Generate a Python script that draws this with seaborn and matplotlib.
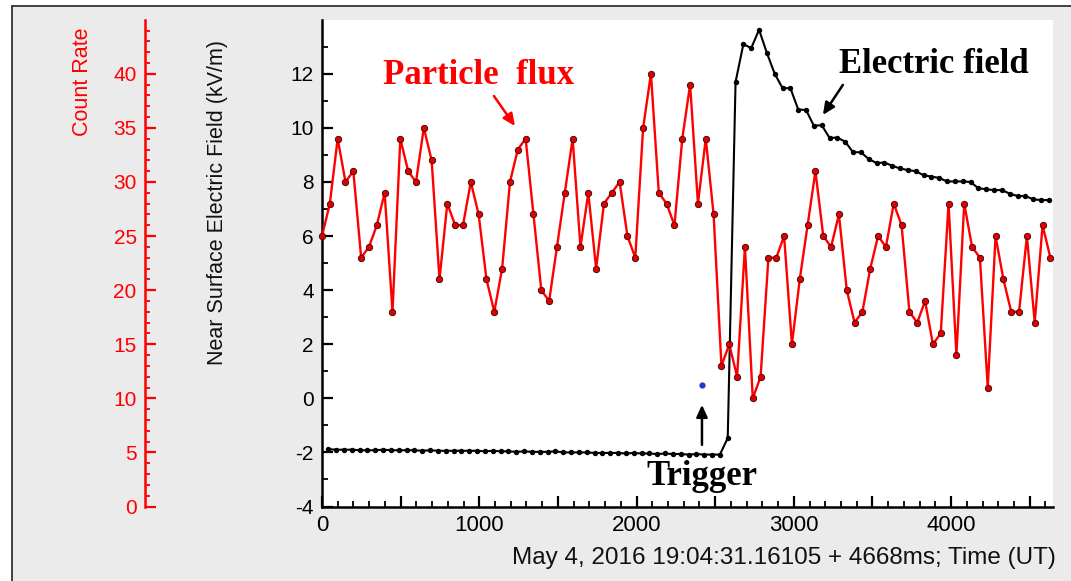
import numpy as np
import pandas as pd
import matplotlib
matplotlib.use("Agg")
import matplotlib.pyplot as plt
from matplotlib.ticker import MultipleLocator, FuncFormatter
from matplotlib.patches import Rectangle
from matplotlib.lines import Line2D
import seaborn as sns

# ---------------- data ----------------
count_t0 = 0.0          # ms
count_dt = 49.8         # ms between samples
count_rate = [25, 28, 34, 30, 31, 23, 24, 26, 29, 18, 34, 31, 30, 35, 32, 21,
              28, 26, 26, 30, 27, 21, 18, 22, 30, 33, 34, 27, 20, 19, 24, 29,
              34, 24, 29, 22, 28, 29, 30, 25, 23, 35, 40, 29, 28, 26, 34,
              39, 28, 34, 27, 13, 15, 12, 24, 10, 12, 23, 23, 25, 15, 21, 26,
              31, 25, 24, 27, 20, 17, 18, 22, 25, 24, 28, 26, 18, 17, 19, 15,
              16, 28, 14, 28, 24, 23, 11, 25, 21, 18, 18, 25, 17, 26, 23]

field_t0 = 40.0
field_dt = 49.8
field_kvm = [-1.88, -1.90, -1.90, -1.90, -1.92, -1.92, -1.92, -1.90, -1.92, -1.92,
             -1.92, -1.92, -1.94, -1.92, -1.94, -1.94, -1.94, -1.94, -1.94, -1.94,
             -1.96, -1.94, -1.96, -1.96, -1.98, -1.96, -1.98, -1.98, -1.98, -1.96,
             -2.00, -2.00, -2.00, -2.00, -2.02, -2.02, -2.02, -2.02, -2.04, -2.02,
             -2.04, -2.04, -2.06, -2.04, -2.06, -2.06, -2.08, -2.06, -2.08, -2.08,
             -2.08, -1.47, 11.70, 13.10, 12.95, 13.63, 12.77, 12.00, 11.47, 11.47,
             10.68, 10.66, 10.08, 10.10, 9.63, 9.64, 9.49, 9.10, 9.10, 8.85,
             8.70, 8.72, 8.60, 8.50, 8.44, 8.40, 8.25, 8.20, 8.15, 8.02,
             8.02, 8.02, 8.00, 7.77, 7.73, 7.70, 7.70, 7.57, 7.48, 7.48,
             7.36, 7.33, 7.33]

trigger_t = 2416
trigger_value = 0.5

field_ylim = (-4, 13.99)
x_max = 4648
xlabel_text = "May 4, 2016 19:04:31.16105 + 4668ms; Time (UT)"
ylabel_text = "Near Surface Electric Field (kV/m)"
count_label = "Count Rate"

count_t = count_t0 + np.arange(len(count_rate)) * count_dt
field_t = field_t0 + np.arange(len(field_kvm)) * field_dt
df_count = pd.DataFrame({"t": count_t, "count": count_rate})
df_field = pd.DataFrame({"t": field_t, "E": field_kvm})

# ---------------- style ----------------
sns.set_theme(style="white")
plt.rcParams["font.family"] = ["Liberation Sans", "DejaVu Sans"]
plt.rcParams["axes.unicode_minus"] = False

W, H = 1071, 581
fig = plt.figure(figsize=(W / 100, H / 100), dpi=100)
fig.patch.set_facecolor("white")
fig.patches.append(Rectangle((12 / W, 0), 1, (H - 6) / H, transform=fig.transFigure,
                             facecolor="#ebebeb", edgecolor="none", zorder=-10))
fig.add_artist(Line2D([12 / W, 12 / W], [0, (H - 6) / H], transform=fig.transFigure,
                      color="#333333", lw=1.3))
fig.add_artist(Line2D([12 / W, 1], [(H - 6) / H, (H - 6) / H], transform=fig.transFigure,
                      color="#333333", lw=1.3))

ax = fig.add_axes([322 / W, 74.5 / H, 731 / W, 486.5 / H])
ax.set_facecolor("white")

sns.lineplot(data=df_field, x="t", y="E", ax=ax, color="black", lw=1.5,
             marker="o", markersize=3.9, markeredgewidth=0, estimator=None, zorder=3)
ax.plot([trigger_t], [trigger_value], "o", color="#1a3ad8", markersize=3.5, zorder=4)

ax.set_xlim(0, x_max)
ax.set_ylim(*field_ylim)
for s in ["top", "right"]:
    ax.spines[s].set_visible(False)
for s in ["left", "bottom"]:
    ax.spines[s].set_color("black")
    ax.spines[s].set_linewidth(1.8)

ax.xaxis.set_major_locator(MultipleLocator(500))
ax.xaxis.set_minor_locator(MultipleLocator(100))
ax.xaxis.set_major_formatter(FuncFormatter(lambda v, p: f"{int(v)}" if abs(v % 1000) < 1e-6 else ""))
ax.yaxis.set_major_locator(MultipleLocator(2))
ax.yaxis.set_minor_locator(MultipleLocator(1))
ax.tick_params(which="both", direction="in", bottom=True, left=True, top=False, right=False,
               colors="black", pad=6)
ax.tick_params(axis="x", labelsize=16)
ax.tick_params(axis="y", labelsize=15)
ax.tick_params(which="major", length=8, width=1.6)
ax.tick_params(which="minor", length=4, width=1.3)

ax.set_xlabel(xlabel_text, fontsize=17.5, color="#111111")
ax.xaxis.set_label_coords(0.632, -0.083)
ax.set_ylabel(ylabel_text, fontsize=15.5, color="#111111")
ax.yaxis.set_label_coords(-0.128, 0.625)

# ---------------- count-rate axis ----------------
ax2 = ax.twinx()
sns.lineplot(data=df_count, x="t", y="count", ax=ax2, color="red", lw=1.7,
             marker="o", markersize=4.6, markerfacecolor="#e00000",
             markeredgecolor="#3a0000", markeredgewidth=0.6, estimator=None,
             zorder=3, clip_on=False)
ax2.set_xlim(0, x_max)
ax2.set_ylim((field_ylim[0] + 4) * 2.5, (field_ylim[1] + 4) * 2.5)
for s in ["top", "right", "bottom"]:
    ax2.spines[s].set_visible(False)
ax2.spines["left"].set_visible(True)
ax2.spines["left"].set_position(("axes", (145 - 322) / 731))
ax2.spines["left"].set_color("red")
ax2.spines["left"].set_linewidth(1.8)
ax2.yaxis.set_ticks_position("left")
ax2.yaxis.set_label_position("left")
ax2.yaxis.set_major_locator(MultipleLocator(5))
ax2.yaxis.set_minor_locator(MultipleLocator(1))
ax2.tick_params(axis="y", which="both", direction="in", left=True, right=False,
                colors="red", labelsize=15, pad=6)
ax2.tick_params(axis="y", which="major", length=8, width=1.6)
ax2.tick_params(axis="y", which="minor", length=3.5, width=1.3)
ax2.set_ylabel(count_label, fontsize=15.5, color="red", loc="top")
ax2.yaxis.set_label_coords(-0.313, 0.9856)
ax2.set_xlabel("")

# ---------------- annotations ----------------
serif = ["Liberation Serif", "DejaVu Serif"]
ax.text(998, 11.63, "Particle  flux", color="red", fontsize=25, fontweight="bold",
        family=serif, ha="center", va="baseline", zorder=5)
ax.text(3888, 12.04, "Electric field", color="black", fontsize=25, fontweight="bold",
        family=serif, ha="center", va="baseline", zorder=5)
ax.text(trigger_t, -3.2, "Trigger", color="black", fontsize=25, fontweight="bold",
        family=serif, ha="center", va="baseline", zorder=5)

astyle = "-|>,head_length=0.72,head_width=0.33"
ax.annotate("", xy=(1227, 10.07), xytext=(1093, 11.18),
            arrowprops=dict(arrowstyle=astyle, mutation_scale=10, lw=1.8, color="red",
                            shrinkA=0, shrinkB=0))
ax.annotate("", xy=(3185, 10.48), xytext=(3312, 11.59),
            arrowprops=dict(arrowstyle=astyle, mutation_scale=10, lw=1.8, color="black",
                            shrinkA=0, shrinkB=0))
ax.annotate("", xy=(trigger_t, -0.24), xytext=(trigger_t, -1.72),
            arrowprops=dict(arrowstyle=astyle, mutation_scale=10, lw=1.8, color="black",
                            shrinkA=0, shrinkB=0))

fig.savefig("out.png", dpi=100, facecolor=fig.get_facecolor())
